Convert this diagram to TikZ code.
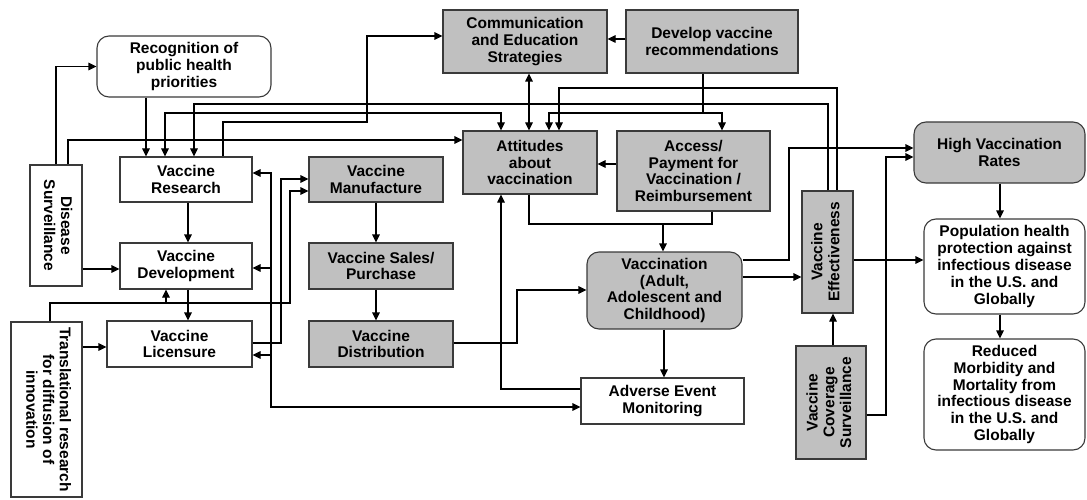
\documentclass[tikz,border=0pt]{standalone}
\usepackage{fontspec}
\setmainfont{Liberation Sans}
\usepackage{graphicx}
\usepackage[HTML]{xcolor}
\usetikzlibrary{arrows.meta}
\definecolor{boxgray}{HTML}{C0C0C0}
\definecolor{edgegray}{HTML}{3A3A3A}
\newcommand{\vlabel}[2]{\rotatebox{#1}{\begin{tabular}{@{}c@{}}#2\end{tabular}}}

\begin{document}
\begin{tikzpicture}[x=1pt,y=-1pt,
  font=\fontsize{15.5}{16.8}\selectfont\bfseries,
  box/.style={draw=edgegray,line width=1.1pt,fill=white,align=center,inner sep=1pt},
  gbox/.style={box,fill=boxgray},
  rbox/.style={box,rounded corners=12pt},
  arr/.style={-{Triangle[length=8pt,width=7.5pt]},line width=1.1pt},
  darr/.style={{Triangle[length=8pt,width=7.5pt]}-{Triangle[length=8pt,width=7.5pt]},line width=1.1pt},
  link/.style={line width=1.1pt}]
\useasboundingbox (0,0) rectangle (1087,500);

% nodes (left column)
\node[rbox,minimum width=174,minimum height=61] (rec) at (184,66.5) {Recognition of\\public health\\priorities};
\node[box,minimum width=52,minimum height=121] (ds) at (56,225.5) {\vlabel{-90}{Disease\\Surveillance}};
\node[box,minimum width=132,minimum height=45] (res) at (186,179.5) {Vaccine\\Research};
\node[box,minimum width=132,minimum height=46] (dev) at (186,266) {Vaccine\\Development};
\node[box,minimum width=145,minimum height=46] (lic) at (179.5,344) {Vaccine\\Licensure};
\node[box,minimum width=71,minimum height=175] (trans) at (46.5,409.5) {\vlabel{-90}{Translational research\\for diffusion of\\innovation}};

% nodes (supply chain)
\node[gbox,minimum width=134,minimum height=45] (man) at (376,179.5) {Vaccine\\Manufacture};
\node[gbox,minimum width=144,minimum height=46] (sales) at (381,266) {Vaccine Sales/\\Purchase};
\node[gbox,minimum width=144,minimum height=46] (dist) at (381,344) {Vaccine\\Distribution};

% nodes (top and middle)
\node[gbox,minimum width=164,minimum height=63] (comm) at (525,41.5) {Communication\\and Education\\Strategies};
\node[gbox,minimum width=172,minimum height=63] (devrec) at (712,41.5) {Develop vaccine\\recommendations};
\node[gbox,minimum width=134,minimum height=63] (att) at (530,162.5) {Attitudes\\about\\vaccination};
\node[gbox,minimum width=153,minimum height=80] (acc) at (693.5,171) {Access/\\Payment for\\Vaccination /\\Reimbursement};
\node[rbox,fill=boxgray,minimum width=155,minimum height=77] (vacc) at (664.5,290.5) {Vaccination\\(Adult,\\Adolescent and\\Childhood)};
\node[box,minimum width=163,minimum height=46] (aem) at (662.5,401) {Adverse Event\\Monitoring};

% nodes (right)
\node[gbox,minimum width=51,minimum height=122] (ve) at (827.5,252) {\vlabel{90}{Vaccine\\Effectiveness}};
\node[gbox,minimum width=70,minimum height=113] (vcs) at (831,402.5) {\vlabel{90}{Vaccine\\Coverage\\Surveillance}};
\node[rbox,fill=boxgray,minimum width=171,minimum height=61] (hvr) at (999.5,152.5) {High Vaccination\\Rates};
\node[rbox,minimum width=161,minimum height=95] (pop) at (1004.5,266.5) {Population health\\protection against\\infectious disease\\in the U.S. and\\Globally};
\node[rbox,minimum width=161,minimum height=111] (red) at (1004.5,394.5) {Reduced\\Morbidity and\\Mortality from\\infectious disease\\in the U.S. and\\Globally};

% surveillance and research arrows
\draw[arr] (56,0 |- ds.north) |- (rec.west);
\draw[arr] (68,0 |- ds.north) |- (att.west |- 0,140);
\draw[arr] (146,0 |- rec.south) -- (146,0 |- res.north);
\draw[arr] (188,0 |- res.south) -- (188,0 |- dev.north);
\draw[arr] (188,0 |- dev.south) -- (188,0 |- lic.north);
\draw[arr] (ds.east |- 0,269) -- (dev.west |- 0,269);
\draw[arr] (trans.east |- 0,347) -- (lic.west |- 0,347);
\draw[arr] (50,0 |- trans.north) |- (290,303) |- (man.west |- 0,191);
\draw[arr] (166,303) -- (166,0 |- dev.south);
\draw[arr] (lic.east |- 0,343) -| (281,179) -- (man.west |- 0,179);
\draw[arr] (223,0 |- res.north) |- (367,122) |- (comm.west |- 0,36);
\draw[darr] (165,0 |- res.north) |- (501,113) -- (501,0 |- att.north);

% adverse event feedback
\draw[darr] (res.east |- 0,173) -| (271,407) -- (aem.west |- 0,407);
\draw[arr] (271,268) -- (dev.east |- 0,268);
\draw[arr] (271,355) -- (lic.east |- 0,355);
\draw[arr] (aem.west |- 0,389) -| (501,0 |- att.south);

% supply chain
\draw[arr] (376,0 |- man.south) -- (376,0 |- sales.north);
\draw[arr] (376,0 |- sales.south) -- (376,0 |- dist.north);
\draw[arr] (dist.east |- 0,343) -| (517,290) -- (vacc.west |- 0,290);

% recommendations and attitudes
\draw[darr] (529,0 |- comm.south) -- (529,0 |- att.north);
\draw[arr] (devrec.west |- 0,39) -- (comm.east |- 0,39);
\draw[link] (703,0 |- devrec.south) -- (703,113);
\draw[arr] (703,113) -| (549,0 |- att.north);
\draw[arr] (703,113) -| (722,0 |- acc.north);
\draw[arr] (acc.west |- 0,164) -- (att.east |- 0,164);
\draw[arr] (529,0 |- att.south) |- (663,224) -- (663,0 |- vacc.north);
\draw[link] (712,0 |- acc.south) |- (663,224);

% effectiveness feedback
\draw[arr] (837,0 |- ve.north) |- (559,88) -- (559,0 |- att.north);
\draw[arr] (828,0 |- ve.north) |- (194,104) -- (194,0 |- res.north);

% vaccination outcomes
\draw[arr] (664,0 |- vacc.south) -- (664,0 |- aem.north);
\draw[arr] (vacc.east |- 0,277) -- (ve.west |- 0,277);
\draw[arr] (vacc.east |- 0,260) -| (789,148) -- (hvr.west |- 0,148);
\draw[arr] (vcs.east |- 0,415) -| (886,157) -- (hvr.west |- 0,157);
\draw[arr] (833,0 |- vcs.north) -- (833,0 |- ve.south);
\draw[arr] (ve.east |- 0,260) -- (pop.west |- 0,260);
\draw[arr] (1000,0 |- hvr.south) -- (1000,0 |- pop.north);
\draw[arr] (1000,0 |- pop.south) -- (1000,0 |- red.north);
\end{tikzpicture}
\end{document}
